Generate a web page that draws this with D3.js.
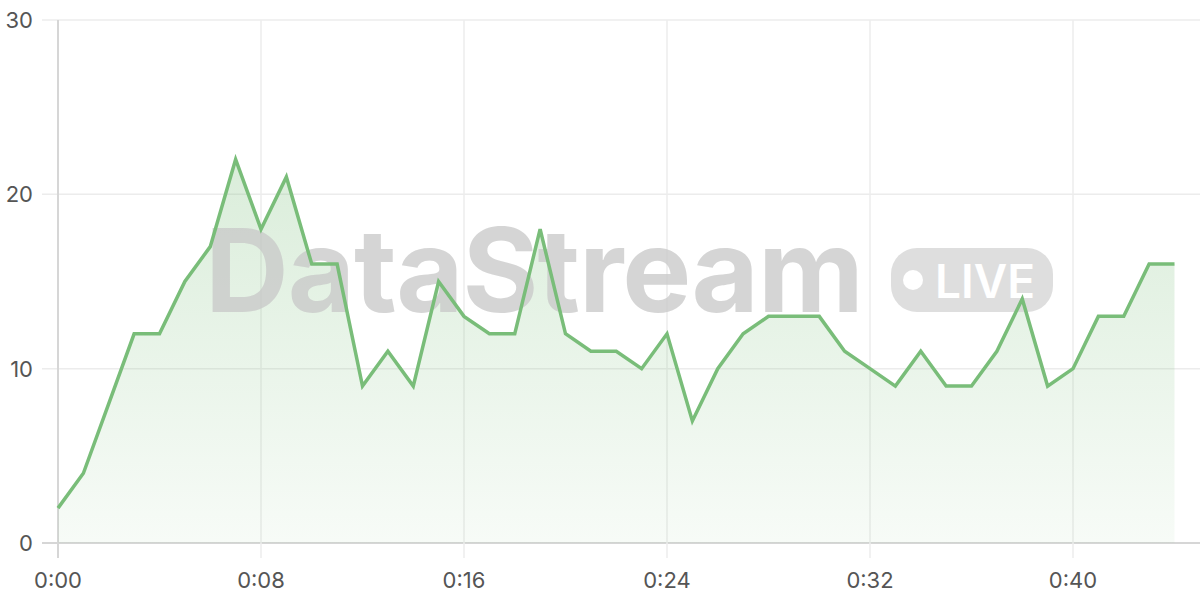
<!DOCTYPE html>
<html><head><meta charset="utf-8">
<script src="https://cdn.jsdelivr.net/npm/d3@7"></script>
<style>html,body{margin:0;padding:0;background:#fff;}svg{display:block;}</style>
</head><body>
<svg id="c" width="1200" height="600"></svg>
<script>
const times = d3.range(0, 45);
const values = [2,4,8,12,12,15,17,22,18,21,16,16,9,11,9,15,13,12,12,18,12,11,11,10,12,7,10,12,13,13,13,11,10,9,11,9,9,11,14,9,10,13,13,16,16];
const xTicks = [0,8,16,24,32,40];
const yTicks = [0,10,20,30];
const fmt = t => Math.floor(t/60) + ":" + String(t%60).padStart(2,"0");

const svg = d3.select("#c");
const x = d3.scaleLinear().domain([0,44]).range([58,1174.5]);
const y = d3.scaleLinear().domain([0,30]).range([543,20]);

const defs = svg.append("defs");
const g = defs.append("linearGradient").attr("id","ag").attr("x1",0).attr("y1",0).attr("x2",0).attr("y2",1);
g.append("stop").attr("offset","0%").attr("stop-color","#7cbf7c").attr("stop-opacity",0.28);
g.append("stop").attr("offset","100%").attr("stop-color","#7cbf7c").attr("stop-opacity",0.06);

// grid
svg.append("g").selectAll("line").data(yTicks).join("line")
  .attr("x1",42).attr("x2",1200).attr("y1",d=>y(d)).attr("y2",d=>y(d))
  .attr("stroke", d=> d===0 ? "#d6d6d6" : "#ececec").attr("stroke-width",d=>d===0?2:1.5);
svg.append("g").selectAll("line").data(xTicks).join("line")
  .attr("x1",d=>x(d)).attr("x2",d=>x(d)).attr("y1",20).attr("y2",558)
  .attr("stroke", d=> d===0 ? "#d6d6d6" : "#ececec").attr("stroke-width",d=>d===0?2:1.5);

// area
svg.append("path").datum(values)
  .attr("fill","url(#ag)")
  .attr("d", d3.area().x((d,i)=>x(times[i])).y0(y(0)).y1(d=>y(d)));

// watermark
const wm = svg.append("g").attr("opacity",0.75);
wm.append("text").attr("x",205).attr("y",312).attr("font-family","Inter, 'Open Sans', sans-serif")
  .attr("font-weight",700).attr("font-size",116).attr("letter-spacing",-1).attr("fill","#c8c8c8").text("DataStream");
wm.append("rect").attr("x",891).attr("y",248).attr("width",162).attr("height",64).attr("rx",26).attr("fill","#d4d4d4");
wm.append("circle").attr("cx",913).attr("cy",280).attr("r",10).attr("fill","#fff");
wm.append("text").attr("x",935).attr("y",298).attr("font-family","Inter, 'Open Sans', sans-serif")
  .attr("font-weight",600).attr("font-size",46).attr("fill","#fff").text("LIVE");

// line
svg.append("path").datum(values)
  .attr("fill","none").attr("stroke","#79bd79").attr("stroke-width",3.5).attr("stroke-linejoin","miter")
  .attr("d", d3.line().x((d,i)=>x(times[i])).y(d=>y(d)));

// labels
svg.append("g").selectAll("text").data(yTicks).join("text")
  .attr("x",33).attr("y",d=>y(d)+8).attr("text-anchor","end")
  .attr("font-family","Inter, sans-serif").attr("font-size",22).attr("fill","#555").text(d=>d);
svg.append("g").selectAll("text").data(xTicks).join("text")
  .attr("x",d=>x(d)).attr("y",588).attr("text-anchor","middle")
  .attr("font-family","Inter, sans-serif").attr("font-size",22).attr("fill","#555").text(fmt);
</script>
</body></html>
